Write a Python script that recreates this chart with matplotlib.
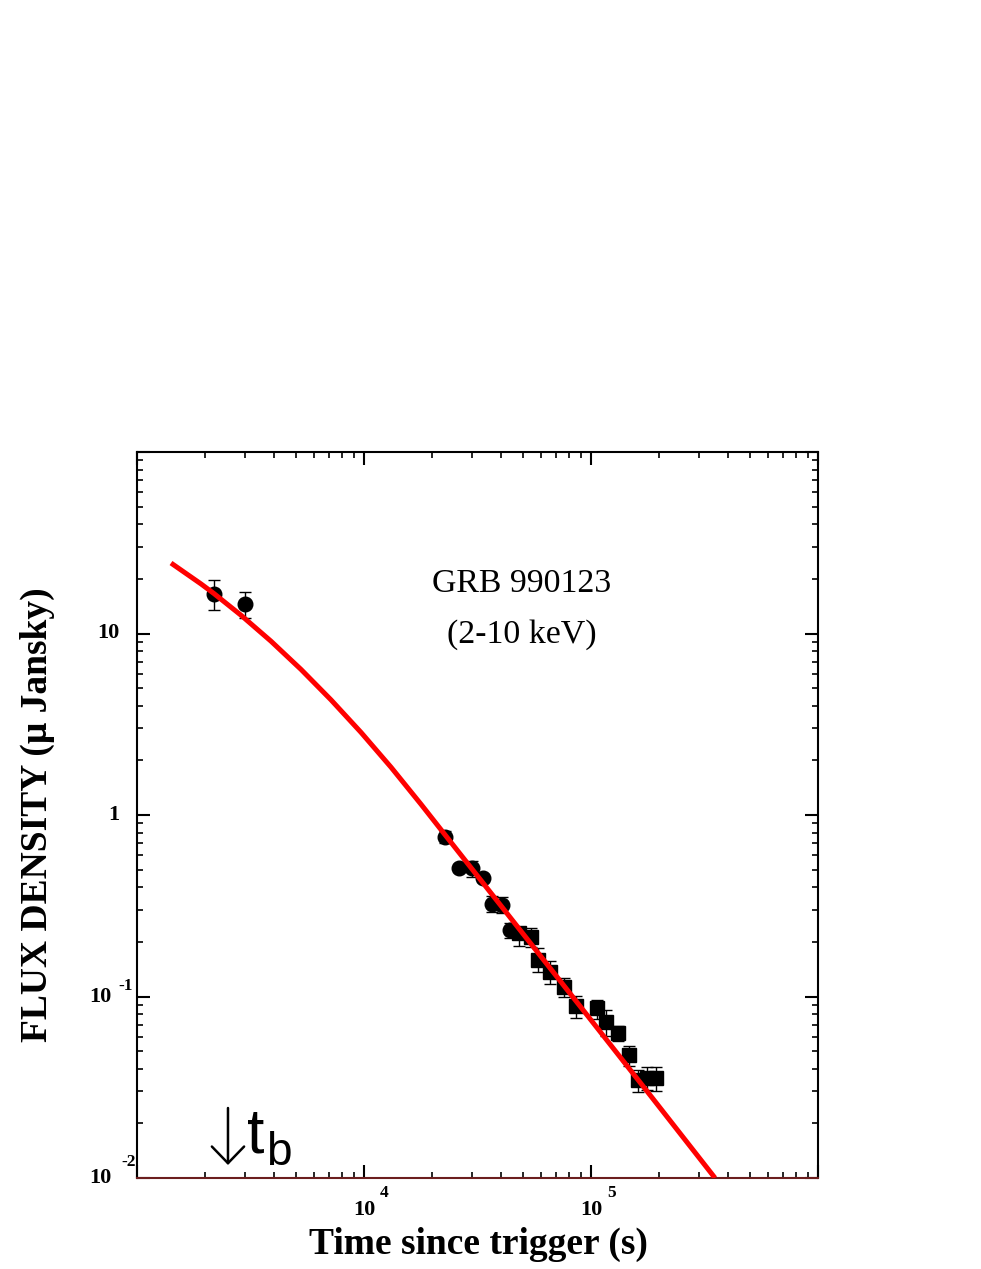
import numpy as np
import matplotlib.pyplot as plt
from matplotlib.ticker import LogLocator, NullFormatter

# X-ray afterglow data (time in s, flux in micro Jansky)
t_circ = [2180, 2990, 22750, 26200, 29900, 33450, 36650, 40560, 43970]
f_circ = [16.5, 14.5, 0.757, 0.51, 0.51, 0.45, 0.324, 0.318, 0.232]
lo_circ = [13.5, 12.2, 0.70, 0.485, 0.455, 0.425, 0.292, 0.290, 0.210]
hi_circ = [19.7, 16.9, 0.82, 0.535, 0.558, 0.475, 0.358, 0.355, 0.254]

t_sq = [48200, 54400, 58420, 65900, 76000, 85900, 106200, 116400, 131500,
        147000, 161000, 176600, 193300]
f_sq = [0.224, 0.213, 0.159, 0.136, 0.113, 0.0887, 0.0865, 0.0724, 0.0629,
        0.0476, 0.0347, 0.0356, 0.0356]
lo_sq = [0.190, 0.187, 0.137, 0.117, 0.100, 0.0761, 0.075, 0.0607, 0.057,
         0.0412, 0.0297, 0.0306, 0.0303]
hi_sq = [0.240, 0.238, 0.185, 0.157, 0.127, 0.1007, 0.0957, 0.0841, 0.069,
         0.0535, 0.0395, 0.0408, 0.0410]

# model curve
t_fit = [1412, 1914, 2184, 2872, 3893, 5279, 7155, 9701, 13150, 17830,
         23440, 40140, 93160, 183800, 351800]
f_fit = [24.45, 18.76, 16.59, 12.61, 9.07, 6.34, 4.31, 2.852, 1.834, 1.146,
         0.742, 0.316, 0.0830, 0.0282, 0.0100]

xtick_vals = [1e4, 1e5]
xtick_exp = ['4', '5']

W, H = 981, 1269
fig = plt.figure(figsize=(W / 100, H / 100), dpi=100)
x0, x1, y0, y1 = 137, 818, 452, 1178
ax = fig.add_axes([x0 / W, 1 - y1 / H, (x1 - x0) / W, (y1 - y0) / H])

serif = ['Liberation Serif', 'DejaVu Serif']
sans = ['Liberation Sans', 'DejaVu Sans']

ax.plot(t_fit, f_fit, color='red', lw=3.6, solid_capstyle='butt',
        solid_joinstyle='round', zorder=3)

yerr_c = [np.array(f_circ) - np.array(lo_circ), np.array(hi_circ) - np.array(f_circ)]
ax.errorbar(t_circ, f_circ, yerr=yerr_c, fmt='o', ms=10.5, color='black',
            ecolor='black', elinewidth=1.0, capsize=4.5, capthick=1.0, zorder=2)
yerr_s = [np.array(f_sq) - np.array(lo_sq), np.array(hi_sq) - np.array(f_sq)]
ax.errorbar(t_sq, f_sq, yerr=yerr_s, fmt='s', ms=9.5, color='black',
            ecolor='black', elinewidth=1.0, capsize=4.5, capthick=1.0, zorder=2)

ax.set_xscale('log')
ax.set_yscale('log')
ax.set_xlim(1e3, 1e6)
ax.set_ylim(1e-2, 1e2)

for s in ax.spines.values():
    s.set_linewidth(1.5)
ax.spines['bottom'].set_color('#6b1e1e')

ax.xaxis.set_major_locator(LogLocator(base=10, numticks=10))
ax.xaxis.set_minor_locator(LogLocator(base=10, subs=np.arange(2, 10), numticks=10))
ax.yaxis.set_major_locator(LogLocator(base=10, numticks=10))
ax.yaxis.set_minor_locator(LogLocator(base=10, subs=np.arange(2, 10), numticks=10))
for a in (ax.xaxis, ax.yaxis):
    a.set_major_formatter(NullFormatter())
    a.set_minor_formatter(NullFormatter())
ax.tick_params(which='both', direction='in', top=True, right=True, color='black')
ax.tick_params(which='major', length=9.5, width=1.5)
ax.tick_params(which='minor', length=4.5, width=1.2)

# ROOT-style tick labels
xt = ax.get_xaxis_transform()
for v, e in zip(xtick_vals, xtick_exp):
    ax.text(v, -0.044, '10', transform=xt, ha='center', va='center',
            fontsize=16, fontweight='bold', family=serif)
    ax.text(v * 1.23, -0.020, e, transform=xt, ha='center', va='center',
            fontsize=12.5, fontweight='bold', family=serif)

yt = ax.get_yaxis_transform()
ax.text(-0.025, 10, '10', transform=yt, ha='right', va='center',
        fontsize=16, fontweight='bold', family=serif)
ax.text(-0.026, 1, '1', transform=yt, ha='right', va='center',
        fontsize=16, fontweight='bold', family=serif)
ax.text(-0.038, 0.1, '10', transform=yt, ha='right', va='center',
        fontsize=16, fontweight='bold', family=serif)
ax.text(-0.028, 0.1 * 10 ** (11 / 181.5), '-1', transform=yt, ha='left', va='center',
        fontsize=12.5, fontweight='bold', family=serif)
ax.text(-0.038, 0.01, '10', transform=yt, ha='right', va='center',
        fontsize=16, fontweight='bold', family=serif)
ax.text(-0.023, 0.01 * 10 ** (16 / 181.5), '-2', transform=yt, ha='left', va='center',
        fontsize=12.5, fontweight='bold', family=serif)

ax.text(0.5653, 0.818, 'GRB 990123', transform=ax.transAxes, ha='center',
        va='center', fontsize=24.4, family=serif)
ax.text(0.5653, 0.748, '(2-10 keV)', transform=ax.transAxes, ha='center',
        va='center', fontsize=24.4, family=serif)

# break time marker
ax.annotate('', xy=(0.1336, 0.0179), xytext=(0.1336, 0.0964),
            xycoords='axes fraction', textcoords='axes fraction',
            arrowprops=dict(arrowstyle='->, head_length=0.6, head_width=0.58',
                            mutation_scale=20, lw=1.8, color='black',
                            shrinkA=0, shrinkB=0))
ax.text(0.161, 0.0358, 't', transform=ax.transAxes, ha='left',
        va='baseline', fontsize=45, family=sans)
ax.text(0.189, 0.0179, 'b', transform=ax.transAxes, ha='left',
        va='baseline', fontsize=33, family=sans)

fig.text(478 / W, 1 - 1244 / H, 'Time since trigger (s)', ha='center',
         va='center', fontsize=27, fontweight='bold', family=serif)
fig.text(37 / W, 1 - 815 / H, 'FLUX DENSITY (\u03bc Jansky)', ha='center',
         va='center', rotation=90, fontsize=27, fontweight='bold', family=serif)

fig.savefig('out.png', dpi=100)
